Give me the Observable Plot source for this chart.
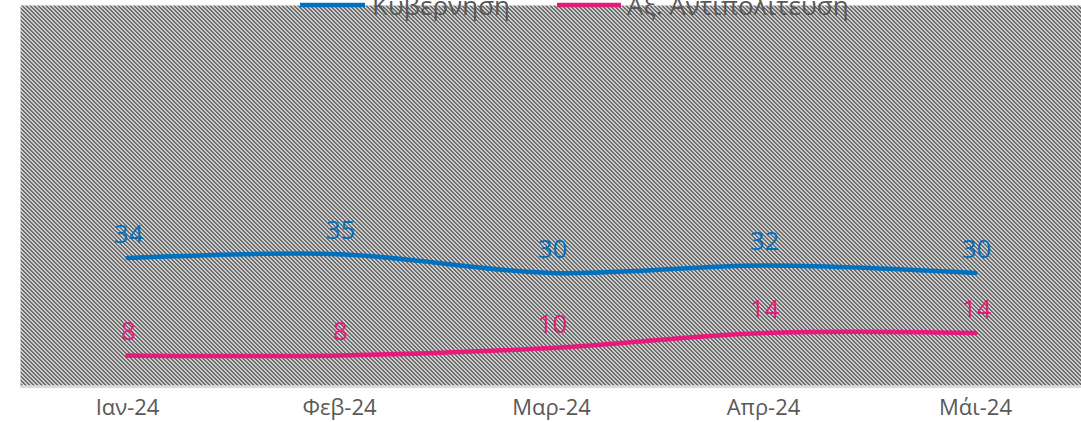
<!DOCTYPE html>
<html><head><meta charset="utf-8">
<script src="https://cdn.jsdelivr.net/npm/d3@7"></script>
<script src="https://cdn.jsdelivr.net/npm/@observablehq/plot@0.6"></script>
<style>
html,body{margin:0;padding:0;background:#fff;overflow:hidden}
#wrap{position:relative;width:1081px;height:422px}
#wrap svg{display:block}
.legend{position:absolute;left:0;top:0;pointer-events:none}
</style></head><body><div id="wrap"></div>
<script>
const months = ["Ιαν-24","Φεβ-24","Μαρ-24","Απρ-24","Μάι-24"];
const government = [34,35,30,32,30];
const opposition = [8,8,10,14,14];
const seriesNames = ["Κυβέρνηση","Αξ. Αντιπολίτευση"];
const seriesColors = ["#0070C0","#E8197C"];

const rows = [];
months.forEach((m,i)=>{
  rows.push({month:m, value:government[i], series:seriesNames[0]});
  rows.push({month:m, value:opposition[i], series:seriesNames[1]});
});

const font = "'Open Sans', 'Noto Sans', sans-serif";
const chart = Plot.plot({
  width:1081, height:422, marginLeft:20, marginRight:0, marginTop:5, marginBottom:37,
  style:{fontFamily:font, background:"#fff"},
  x:{type:"point", domain:months, padding:0.5, label:null},
  y:{domain:[0,101.3], axis:null},
  color:{domain:seriesNames, range:seriesColors},
  marks:[
    Plot.frame({fill:"url(#hatch)", stroke:"none"}),
    Plot.ruleY([0],{stroke:"#d9d9d9", strokeWidth:2, dy:1.5}),
    Plot.axisX({tickSize:0, tickPadding:14, fontSize:22, color:"#595959", fill:"#595959", label:null}),
    Plot.line(rows,{x:"month",y:"value",z:"series",stroke:"series",strokeWidth:4.5,curve:"catmull-rom",strokeLinecap:"round"}),
    Plot.text(rows,{x:"month",y:"value",text:"value",fill:"series",fontSize:26,lineAnchor:"bottom",dy:-15,dx:1})
  ]
});

const defs = d3.select(chart).insert("defs",":first-child");
const pat = defs.append("pattern").attr("id","hatch").attr("patternUnits","userSpaceOnUse")
  .attr("width",4).attr("height",4).attr("shape-rendering","crispEdges");
pat.append("rect").attr("width",4).attr("height",4).attr("fill","#ffffff");
[[0,0],[1,0],[1,1],[2,1],[2,2],[3,2],[3,3],[0,3]].forEach(([x,y])=>{
  pat.append("rect").attr("x",x).attr("y",y).attr("width",1).attr("height",1).attr("fill","#3c3c3c");
});

const wrap = document.getElementById("wrap");
wrap.appendChild(chart);

// legend overlay (partly cut off at the top, as in the reference)
const leg = d3.select(wrap).append("svg").attr("class","legend").attr("width",1081).attr("height",30);
const legendItems = [
  {name:seriesNames[0], color:seriesColors[0], x0:300, x1:365, tx:372},
  {name:seriesNames[1], color:seriesColors[1], x0:557, x1:621, tx:627}
];
legendItems.forEach(d=>{
  leg.append("line").attr("x1",d.x0).attr("x2",d.x1).attr("y1",5).attr("y2",5)
    .attr("stroke",d.color).attr("stroke-width",4.5);
  leg.append("text").attr("x",d.tx).attr("y",15).attr("fill","#595959")
    .attr("font-family",font).attr("font-size",26).text(d.name);
});
</script></body></html>
